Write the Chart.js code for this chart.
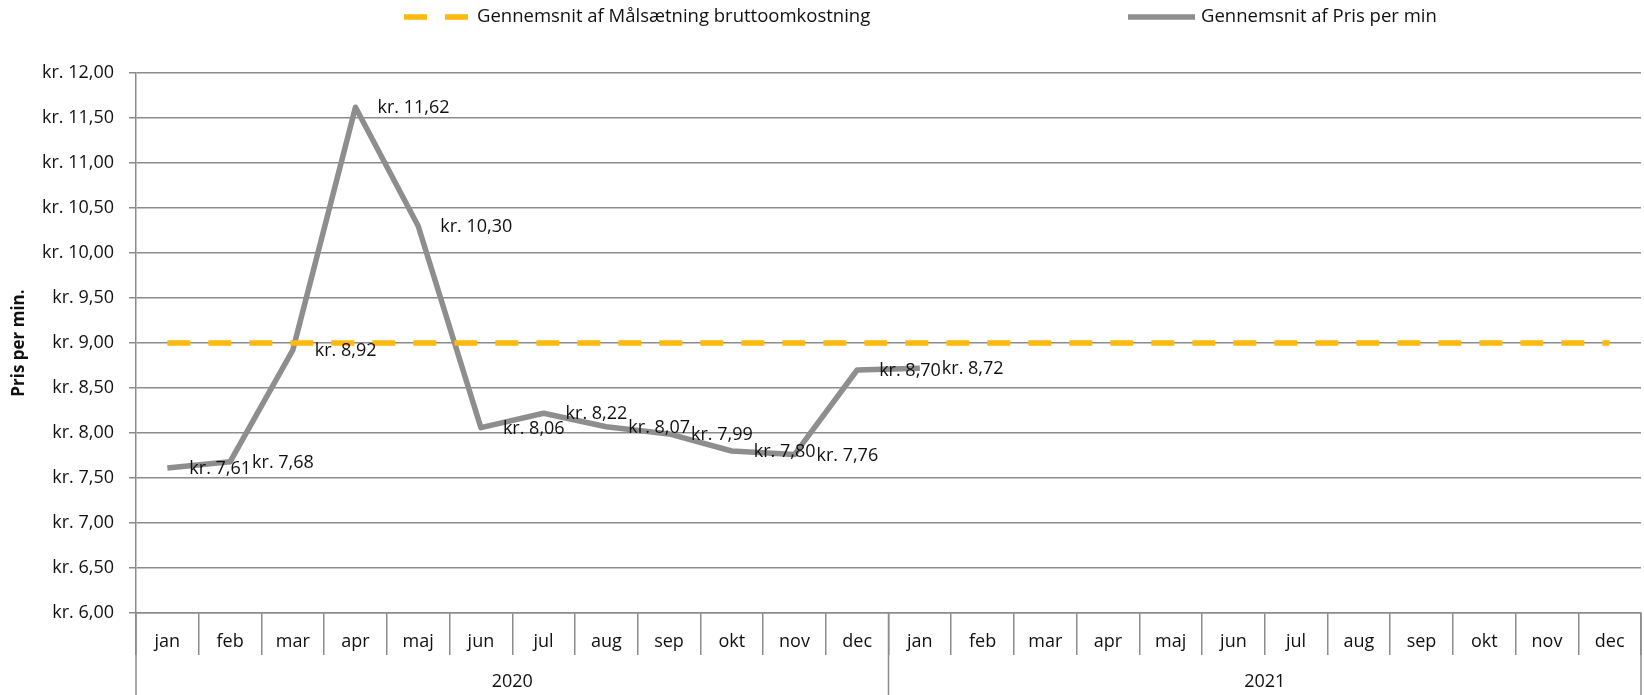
<!DOCTYPE html>
<html>
<head>
<meta charset="utf-8">
<script src="https://cdn.jsdelivr.net/npm/chart.js@4.4.1/dist/chart.umd.min.js"></script>
<style>
  html, body { margin: 0; padding: 0; background: #ffffff; }
  #wrap { width: 1644px; height: 695px; }
</style>
</head>
<body>
<div id="wrap"><canvas id="c" width="1644" height="695"></canvas></div>
<script>
// ---- data ----
const years = ['2020', '2021'];
const months = ['jan', 'feb', 'mar', 'apr', 'maj', 'jun', 'jul', 'aug', 'sep', 'okt', 'nov', 'dec'];
const prisPerMin = [7.61, 7.68, 8.92, 11.62, 10.30, 8.06, 8.22, 8.07, 7.99, 7.80, 7.76, 8.70,
                    8.72, null, null, null, null, null, null, null, null, null, null, null];
const maalsaetning = [9.00, 9.00, 9.00, 9.00, 9.00, 9.00, 9.00, 9.00, 9.00, 9.00, 9.00, 9.00,
                      9.00, 9.00, 9.00, 9.00, 9.00, 9.00, 9.00, 9.00, 9.00, 9.00, 9.00, 9.00];
const seriesNames = ['Gennemsnit af Målsætning bruttoomkostning', 'Gennemsnit af Pris per min'];
const yMin = 6, yMax = 12, yStep = 0.5;
const yTitle = 'Pris per min.';

// ---- styles ----
const FONT = 'Open Sans';
const gridColor = '#8c8c8c';
const textColor = '#111111';
const orange = '#FFB80C';
const grey = '#8e8e8e';

const labels = [];
years.forEach(() => months.forEach(m => labels.push(m)));

function kr(v) {
  return 'kr. ' + Number(v).toFixed(2).replace('.', ',');
}

const yearPlugin = {
  id: 'yearRow',
  afterDraw(chart) {
    const ctx = chart.ctx, xs = chart.scales.x, area = chart.chartArea;
    ctx.save();
    ctx.strokeStyle = gridColor;
    ctx.lineWidth = 1.5;
    const n = months.length;
    for (let i = 0; i <= years.length; i++) {
      const x = xs.getPixelForValue(i * n - 0.5);
      ctx.beginPath();
      ctx.moveTo(x, area.bottom);
      ctx.lineTo(x, chart.height);
      ctx.stroke();
    }
    ctx.fillStyle = textColor;
    ctx.font = '18px "' + FONT + '"';
    ctx.textAlign = 'center';
    ctx.textBaseline = 'middle';
    years.forEach((y, i) => {
      const x = xs.getPixelForValue(i * n + (n - 1) / 2);
      ctx.fillText(y, x, 682);
    });
    ctx.restore();
  }
};

const dataLabelPlugin = {
  id: 'dataLabels',
  afterDatasetsDraw(chart) {
    const ctx = chart.ctx;
    const meta = chart.getDatasetMeta(1);
    const ds = chart.data.datasets[1];
    ctx.save();
    ctx.fillStyle = textColor;
    ctx.font = '18px "' + FONT + '"';
    ctx.textAlign = 'left';
    ctx.textBaseline = 'middle';
    meta.data.forEach((pt, i) => {
      const v = ds.data[i];
      if (v === null || v === undefined) return;
      ctx.fillText(kr(v), pt.x + 22, pt.y + 1);
    });
    ctx.restore();
  }
};

const legendPlugin = {
  id: 'customLegend',
  afterDraw(chart) {
    const ctx = chart.ctx;
    const ds = chart.data.datasets;
    const items = [
      { x0: 404, x1: 469, tx: 477 },
      { x0: 1128, x1: 1195, tx: 1201 }
    ];
    const y = 17;
    ctx.save();
    items.forEach((it, i) => {
      ctx.beginPath();
      ctx.strokeStyle = ds[i].borderColor;
      ctx.lineWidth = 5.5;
      ctx.lineCap = 'butt';
      ctx.setLineDash(ds[i].borderDash || []);
      ctx.moveTo(it.x0, y);
      ctx.lineTo(it.x1, y);
      ctx.stroke();
      ctx.setLineDash([]);
      ctx.fillStyle = textColor;
      ctx.font = '18.5px "' + FONT + '"';
      ctx.textAlign = 'left';
      ctx.textBaseline = 'middle';
      ctx.fillText(ds[i].label, it.tx, y);
    });
    ctx.restore();
  }
};

function draw() {
  Chart.defaults.font.family = FONT;
  new Chart(document.getElementById('c'), {
    type: 'line',
    data: {
      labels: labels,
      datasets: [
        {
          label: seriesNames[0],
          data: maalsaetning,
          borderColor: orange,
          borderWidth: 5.5,
          borderDash: [23, 18],
          borderCapStyle: 'butt',
          pointRadius: 0,
          tension: 0,
          fill: false
        },
        {
          label: seriesNames[1],
          data: prisPerMin,
          borderColor: grey,
          borderWidth: 5.5,
          borderJoinStyle: 'round',
          borderCapStyle: 'butt',
          pointRadius: 0,
          tension: 0,
          spanGaps: false,
          fill: false
        }
      ]
    },
    options: {
      responsive: false,
      animation: false,
      devicePixelRatio: 1,
      layout: { padding: { top: 73, right: 3, left: 0, bottom: 0 } },
      plugins: {
        legend: { display: false },
        tooltip: { enabled: false }
      },
      scales: {
        x: {
          type: 'category',
          offset: true,
          grid: {
            drawOnChartArea: false,
            drawTicks: true,
            tickLength: 42,
            color: gridColor,
            lineWidth: 1.5,
            offset: true
          },
          border: { display: true, color: gridColor, width: 1.5 },
          ticks: {
            padding: -24,
            maxRotation: 0,
            autoSkip: false,
            color: textColor,
            font: { family: FONT, size: 18 }
          },
          afterFit(s) { s.height = 82; }
        },
        y: {
          min: yMin,
          max: yMax,
          ticks: {
            stepSize: yStep,
            padding: 15,
            color: textColor,
            font: { family: FONT, size: 18 },
            callback: (v) => kr(v)
          },
          grid: { color: gridColor, lineWidth: 1.5, tickLength: 7 },
          border: { display: true, color: gridColor, width: 1.5 },
          title: {
            display: true,
            text: yTitle,
            color: textColor,
            font: { family: FONT, size: 17, weight: 'bold' },
            padding: { top: 9, bottom: 0 }
          },
          afterFit(s) { s.width = 136; }
        }
      }
    },
    plugins: [yearPlugin, dataLabelPlugin, legendPlugin]
  });
}

if (document.fonts && document.fonts.load) {
  Promise.all([
    document.fonts.load('18px "' + FONT + '"'),
    document.fonts.load('bold 17px "' + FONT + '"')
  ]).then(draw, draw);
} else {
  draw();
}
</script>
</body>
</html>
